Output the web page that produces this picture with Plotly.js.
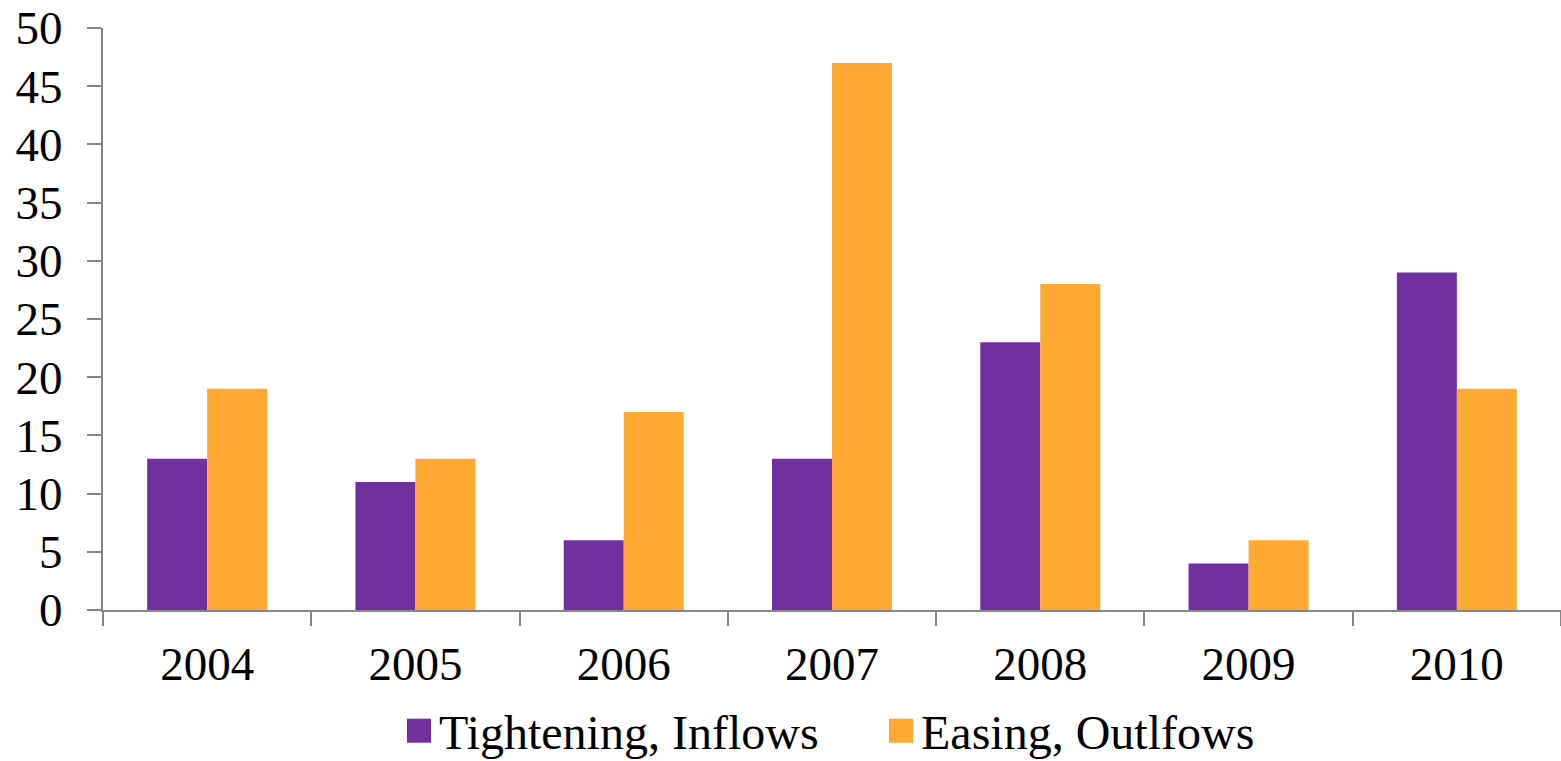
<!DOCTYPE html>
<html>
<head>
<meta charset="utf-8">
<script src="https://cdn.plot.ly/plotly-3.0.1.min.js"></script>
<style>html,body{margin:0;padding:0;background:#fff;}#chart{width:1561px;height:761px;}</style>
</head>
<body>
<div id="chart"></div>
<script>
const years = ['2004','2005','2006','2007','2008','2009','2010'];
const tighteningInflows = [13, 11, 6, 13, 23, 4, 29];
const easingOutflows = [19, 13, 17, 47, 28, 6, 19];
const seriesNames = ['Tightening, Inflows', 'Easing, Outlfows'];
const yTicks = [0,5,10,15,20,25,30,35,40,45,50];

const fontFam = '"Liberation Serif", "Times New Roman", serif';
const traces = [
  {type:'bar', name:seriesNames[0], x:years, y:tighteningInflows, marker:{color:'#7030A0'}},
  {type:'bar', name:seriesNames[1], x:years, y:easingOutflows, marker:{color:'#FFA932'}}
];
const layout = {
  width:1561, height:761,
  margin:{l:103, r:0, t:28, b:151},
  paper_bgcolor:'#fff', plot_bgcolor:'#fff',
  barmode:'group', bargap:0.424, bargroupgap:0,
  font:{family:fontFam, size:47, color:'#000'},
  showlegend:true,
  legend:{orientation:'h', xref:'container', yref:'container', x:399/1561, xanchor:'left',
          y:1-731/761, yanchor:'middle', entrywidth:437, entrywidthmode:'pixels',
          font:{family:fontFam, size:48, color:'#000'}, itemwidth:30, tracegroupgap:0},
  xaxis:{type:'category', showline:true, linecolor:'#868686', linewidth:2,
         ticks:'outside', tickson:'boundaries', ticklen:14, tickcolor:'#868686', tickwidth:2,
         showgrid:false, zeroline:false, ticklabelstandoff:12, tickfont:{family:fontFam, size:47}},
  yaxis:{range:[0,50], tickvals:yTicks, showline:true, linecolor:'#868686', linewidth:2,
         ticks:'outside', ticklen:14, tickcolor:'#868686', tickwidth:2,
         showgrid:false, zeroline:false, ticklabelstandoff:15, tickfont:{family:fontFam, size:47}}
};
Plotly.newPlot('chart', traces, layout, {staticPlot:true}).then(function(){
  document.querySelectorAll('.legendpoints path').forEach(function(p){
    p.setAttribute('d','M12,12H-12V-12H12Z');
  });
});
</script>
</body>
</html>
